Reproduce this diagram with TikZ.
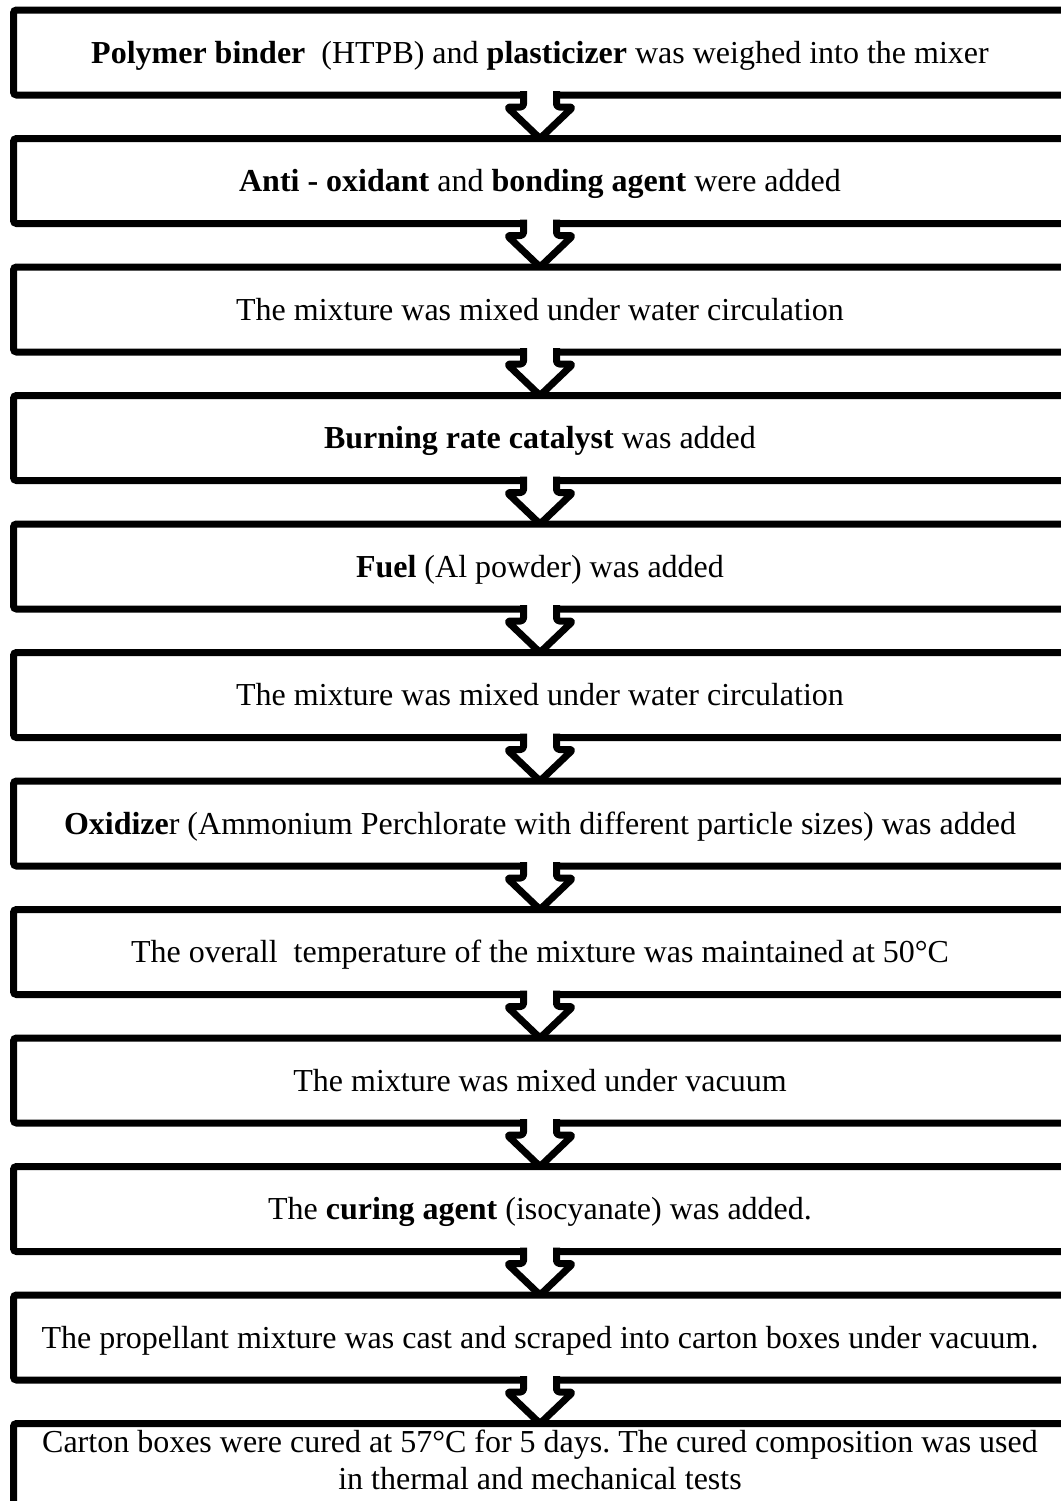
\documentclass[tikz,border=0pt]{standalone}
\usepackage{fontspec}
\setmainfont{Liberation Serif}
\usepackage{tikz}
\usetikzlibrary{positioning,calc}

\begin{document}
\begin{tikzpicture}[node distance=21.75pt, block/.style = {draw, rectangle, line width=3.5pt, rounded corners=1.5pt, outer sep=0pt, inner sep=2pt,
                 minimum width=526.5pt, minimum height=42.5pt, text height=14.3pt, text depth=3.5pt, align=center, font=\fontsize{16}{18.5}\selectfont},
                 flowarrow/.style = {draw, fill=white, line width=3.5pt, rounded corners=1.5pt, line join=round,
                 to path={($(\tikztostart.south)+(-8.25pt,2pt)$) -- ++(0,-8pt) -- ++(-8.25pt,0) -- (\tikztotarget.north)
                 -- ($(\tikztostart.south)+(16.5pt,-6pt)$) -- ++(-8.25pt,0) -- ++(0,8pt)}}]

\useasboundingbox (0,0) rectangle (530.5pt,-750.5pt);
% Nodes
\node (binder) [block] at (270pt,-26.25pt) {\textbf{Polymer binder}\ \ (HTPB) and \textbf{plasticizer} was weighed into the mixer};
\node (antiox) [block, below=of binder] {\textbf{Anti - oxidant} and \textbf{bonding agent} were added};
\node (mixwater) [block, below=of antiox] {The mixture was mixed under water circulation};
\node (catalyst) [block, below=of mixwater] {\textbf{Burning rate catalyst} was added};
\node (fuel) [block, below=of catalyst] {\textbf{Fuel} (Al powder) was added};
\node (mixwatertwo) [block, below=of fuel] {The mixture was mixed under water circulation};
\node (oxidizer) [block, below=of mixwatertwo] {\textbf{Oxidize}r (Ammonium Perchlorate with different particle sizes) was added};
\node (temperature) [block, below=of oxidizer] {The overall\ \ temperature of the mixture was maintained at 50°C};
\node (vacuum) [block, below=of temperature] {The mixture was mixed under vacuum};
\node (curing) [block, below=of vacuum] {The \textbf{curing agent} (isocyanate) was added.};
\node (casting) [block, below=of curing] {The propellant mixture was cast and scraped into carton boxes under vacuum.};
\node (cured) [block, below=of casting, text height=27pt] {Carton boxes were cured at 57°C for 5 days.\ The cured composition was used\\ in thermal and mechanical tests};

% Arrows
\draw [flowarrow] (binder) to (antiox);
\draw [flowarrow] (antiox) to (mixwater);
\draw [flowarrow] (mixwater) to (catalyst);
\draw [flowarrow] (catalyst) to (fuel);
\draw [flowarrow] (fuel) to (mixwatertwo);
\draw [flowarrow] (mixwatertwo) to (oxidizer);
\draw [flowarrow] (oxidizer) to (temperature);
\draw [flowarrow] (temperature) to (vacuum);
\draw [flowarrow] (vacuum) to (curing);
\draw [flowarrow] (curing) to (casting);
\draw [flowarrow] (casting) to (cured);
\end{tikzpicture}
\end{document}
